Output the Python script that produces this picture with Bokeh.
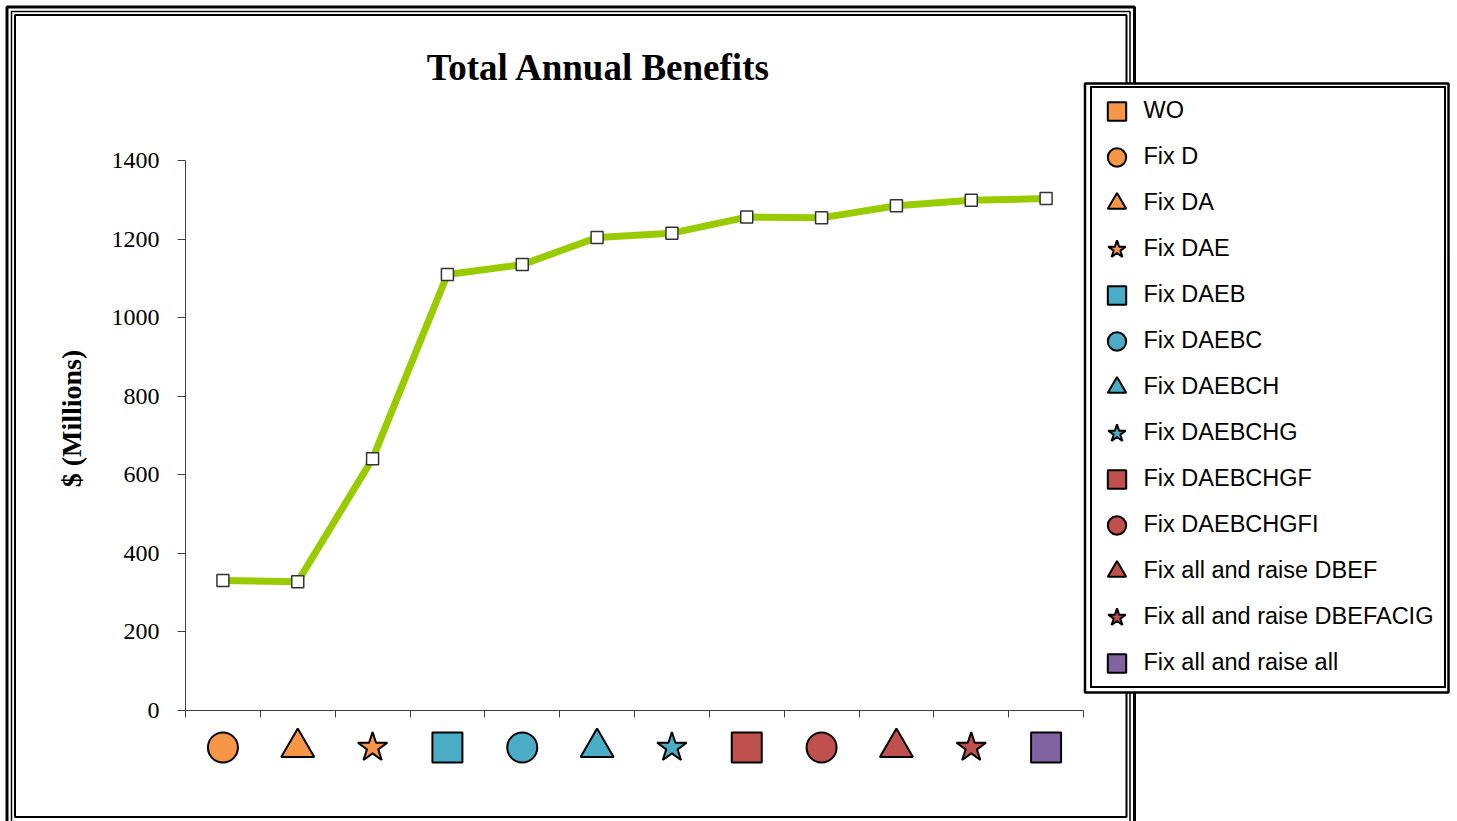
import numpy as np
from bokeh.plotting import figure
from bokeh.models import (Range1d, LinearAxis, FixedTicker, Label, Legend,
                          LegendItem, BoxAnnotation, ColumnDataSource)
from bokeh.embed import file_html
from bokeh.resources import INLINE

# ---------------- data ----------------
title_text = "Total Annual  Benefits"
y_axis_label = "$ (Millions)"
baseline_label = "WO"
categories = ["Fix D", "Fix DA", "Fix DAE", "Fix DAEB", "Fix DAEBC",
              "Fix DAEBCH", "Fix DAEBCHG", "Fix DAEBCHGF", "Fix DAEBCHGFI",
              "Fix all and raise DBEF", "Fix all and raise DBEFACIG",
              "Fix all and raise all"]
benefits = [331, 328, 641, 1110, 1135, 1204, 1215, 1256, 1254, 1285, 1299, 1303]
icon_markers = ["circle", "triangle", "star", "square", "circle", "triangle",
                "star", "square", "circle", "triangle", "star", "square"]
ORANGE, BLUE, RED, PURPLE = "#F79646", "#4BACC6", "#C0504D", "#8064A2"
icon_colors = [ORANGE, ORANGE, ORANGE, BLUE, BLUE, BLUE, BLUE,
               RED, RED, RED, RED, PURPLE]
baseline_marker, baseline_color = "square", ORANGE
y_ticks = [0, 200, 400, 600, 800, 1000, 1200, 1400]

# ---------------- layout (pixels) ----------------
W, H = 1457, 821
AX_L, AX_R = 185, 1083           # x-axis extent
ZERO_PX, TOP_PX = 710, 160       # pixel rows of y = 0 and y = 1400
Y_MAX = 1400

n = len(categories)
x_per_px = n / (AX_R - AX_L)
y_per_px = Y_MAX / (ZERO_PX - TOP_PX)
x_start = -AX_L * x_per_px
x_end = (W - AX_L) * x_per_px
y_end = Y_MAX + TOP_PX * y_per_px
y_start = -(H - ZERO_PX) * y_per_px
ICON_Y = -37 * y_per_px          # icons 37 px below the x axis

xc = np.arange(n) + 0.5

p = figure(width=W, height=H, x_range=Range1d(x_start, x_end),
           y_range=Range1d(y_start, y_end),
           x_axis_type=None, y_axis_type=None,
           min_border=0, min_border_left=0, min_border_right=0,
           min_border_top=0, min_border_bottom=0,
           output_backend="svg", toolbar_location=None)
p.outline_line_color = None
p.background_fill_color = "white"
p.border_fill_color = "white"

AX_COLOR = "#404040"
yaxis = LinearAxis(ticker=FixedTicker(ticks=y_ticks), bounds=(0, Y_MAX),
                   fixed_location=0)
yaxis.axis_line_color = AX_COLOR
yaxis.major_tick_line_color = AX_COLOR
yaxis.major_tick_out = 8
yaxis.major_tick_in = 0
yaxis.minor_tick_out = 0
yaxis.minor_tick_in = 0
yaxis.major_label_text_font = "Liberation Serif"
yaxis.major_label_text_font_size = "24px"
yaxis.major_label_text_color = "black"
yaxis.major_label_standoff = 18
p.add_layout(yaxis, "left")

xaxis = LinearAxis(ticker=FixedTicker(ticks=list(range(n + 1))),
                   fixed_location=0, bounds=(0, n))
xaxis.major_label_overrides = {i: "" for i in range(n + 1)}
xaxis.axis_line_color = AX_COLOR
xaxis.major_tick_line_color = AX_COLOR
xaxis.major_tick_out = 7
xaxis.major_tick_in = 0
xaxis.minor_tick_out = 0
xaxis.minor_tick_in = 0
p.add_layout(xaxis, "below")

# y axis title
p.add_layout(Label(x=71, y=418, x_units="canvas", y_units="canvas",
                   text=y_axis_label, angle=np.pi / 2,
                   text_font="Liberation Serif", text_font_style="bold",
                   text_font_size="28px", text_align="center",
                   text_baseline="middle", text_color="black"))

# series
p.line(xc, benefits, line_color="#99CC00", line_width=7)
p.scatter(xc, benefits, marker="square", size=12, fill_color="white",
          line_color="#333333", line_width=1.5)

# category icons
icon_sizes = {"circle": 30, "square": 30, "triangle": 33, "star": 31}
icon_renderers = []
for i in range(n):
    r = p.scatter([xc[i]], [ICON_Y], marker=icon_markers[i],
                  size=icon_sizes[icon_markers[i]],
                  fill_color=icon_colors[i], line_color="black", line_width=2)
    icon_renderers.append(r)
# baseline ("WO") has no plotted value; it appears only in the legend
wo_src = ColumnDataSource(dict(x=[np.nan], y=[np.nan]))
r_wo = p.scatter("x", "y", source=wo_src, marker=baseline_marker, size=30,
                 fill_color=baseline_color, line_color="black", line_width=2)

def canvas_box(l, t, r, b, **kw):
    return BoxAnnotation(left=l, right=r, top=t, bottom=b,
                         left_units="canvas", right_units="canvas",
                         top_units="canvas", bottom_units="canvas", **kw)

# outer chart frame (triple line)
for (l, t, r, b, w) in [(6.5, 6.5, 1134, 828, 3), (11, 11, 1129.5, 824, 1.5),
                        (14.5, 14.5, 1126, 816.5, 2)]:
    p.add_layout(canvas_box(l, t, r, b, fill_alpha=0, line_color="black",
                            line_alpha=1, line_width=w))

# title
p.add_layout(Label(x=603, y=67, x_units="canvas", y_units="canvas",
                   text=title_text, text_font="Liberation Serif",
                   text_font_style="bold", text_font_size="37px",
                   text_align="center", text_baseline="middle",
                   text_color="black"))

# legend outer box
p.add_layout(canvas_box(1084.5, 83, 1448, 692, fill_color="white", fill_alpha=1,
                        line_color="black", line_alpha=1, line_width=2.5))

items = [LegendItem(label=baseline_label, renderers=[r_wo])]
items += [LegendItem(label=c, renderers=[r]) for c, r in zip(categories, icon_renderers)]
LEG_L, LEG_T = 1089.5, 89.5
LEG_H = 46 * len(items)
legend = Legend(items=items, location=(LEG_L, H - (LEG_T + LEG_H)),
                glyph_width=49, glyph_height=46, spacing=0, padding=0,
                margin=0, label_standoff=3, label_width=300, label_height=20,
                label_text_font="Liberation Sans", label_text_font_size="23.5px",
                label_text_color="black",
                border_line_color="black", border_line_width=2,
                border_line_alpha=1,
                background_fill_color="white", background_fill_alpha=1)
p.add_layout(legend)

open("out.html", "w").write(file_html(p, INLINE))
